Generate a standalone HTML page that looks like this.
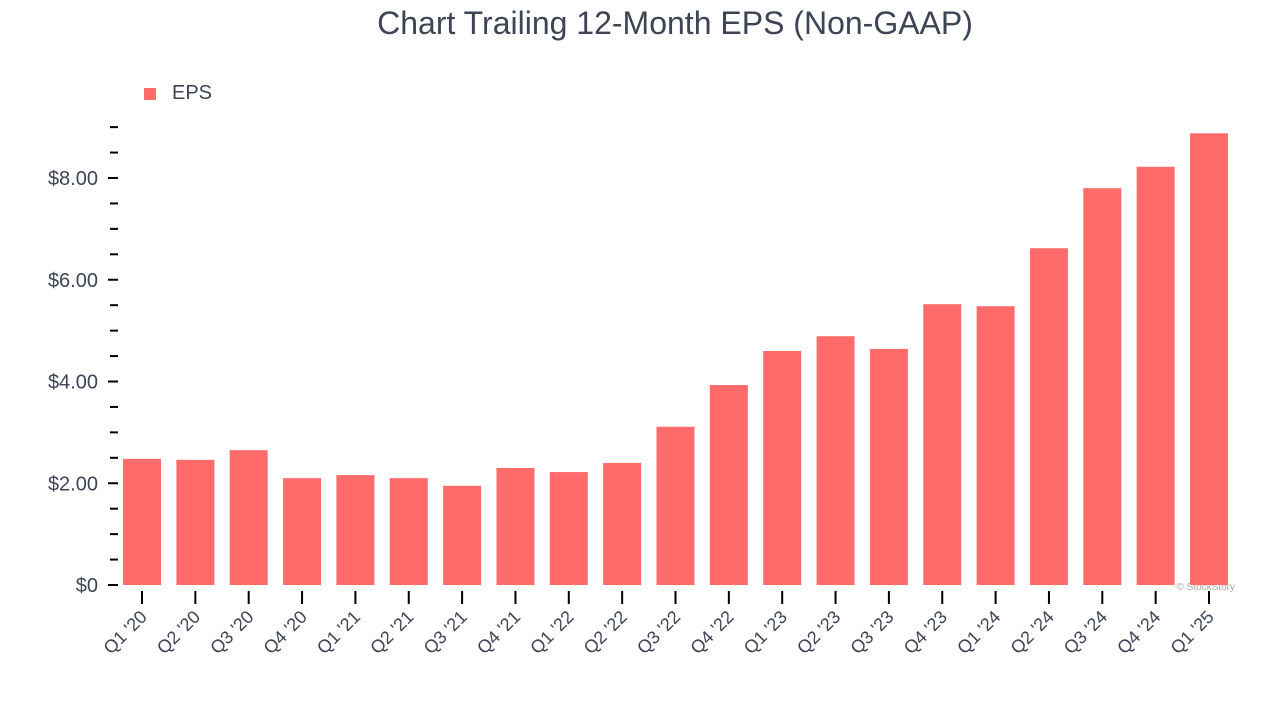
<!DOCTYPE html>
<html><head><meta charset="utf-8"><style>
body{margin:0;background:#fff;font-family:"Liberation Sans",Arial,sans-serif}
svg text{font-family:"Liberation Sans",Arial,sans-serif;fill:#3d4555}
</style></head><body>
<svg id="chart" width="1280" height="720" xmlns="http://www.w3.org/2000/svg">
<text x="675" y="34" font-size="32" text-anchor="middle">Chart Trailing 12-Month EPS (Non-GAAP)</text>
<rect x="144" y="88" width="12" height="12" fill="#ff6b6b"/>
<text x="172" y="99" font-size="20">EPS</text>
<text x="1235" y="590" font-size="10" text-anchor="end" fill="#999" style="fill:#aaa">© StockStory</text>
<g id="axes"></g><g id="bars"></g>
</svg>
<script>
const categories=["Q1 '20","Q2 '20","Q3 '20","Q4 '20","Q1 '21","Q2 '21","Q3 '21","Q4 '21","Q1 '22","Q2 '22","Q3 '22","Q4 '22","Q1 '23","Q2 '23","Q3 '23","Q4 '23","Q1 '24","Q2 '24","Q3 '24","Q4 '24","Q1 '25"];
const epsValues=[2.48,2.46,2.65,2.10,2.16,2.10,1.95,2.30,2.22,2.40,3.11,3.93,4.60,4.89,4.64,5.52,5.48,6.62,7.80,8.22,8.88];
const yTickValues=[0,2,4,6,8];
const yTickLabels=["$0","$2.00","$4.00","$6.00","$8.00"];
const NS="http://www.w3.org/2000/svg";
const y0=585,pxPerUnit=50.875,x0=142,step=53.35,bw=38;
const yScale=v=>y0-v*pxPerUnit;
const xScale=i=>x0+i*step;
const axes=document.getElementById('axes'),bars=document.getElementById('bars');
function mk(tag,attrs,parent){const e=document.createElementNS(NS,tag);for(const k in attrs)e.setAttribute(k,attrs[k]);parent.appendChild(e);return e;}
for(let v=0;v<=9;v+=0.5){
  const major=yTickValues.includes(v);
  const t=mk('line',{x1:major?108:110,x2:118,y1:yScale(v),y2:yScale(v),stroke:'#000','stroke-width':2},axes);
  
  
}
yTickValues.forEach((v,i)=>{
  const t=mk('text',{x:98,y:yScale(v)+7,'font-size':20,'text-anchor':'end'},axes);
  t.textContent=yTickLabels[i];
  
  
});
categories.forEach((c,i)=>{
  const x=xScale(i);
  const r=mk('rect',{x:x-bw/2,y:yScale(epsValues[i]),width:bw,height:epsValues[i]*pxPerUnit,fill:'#ff6b6b'},bars);
  
  
  const tk=mk('line',{x1:x,x2:x,y1:591,y2:604,stroke:'#000','stroke-width':2},axes);
  
  
  const t=mk('text',{x:x+6,y:618,'font-size':18,'text-anchor':'end',transform:`rotate(-45 ${x+6} 618)`},axes);
  t.textContent=c;
  
  
});
</script>
</body></html>
